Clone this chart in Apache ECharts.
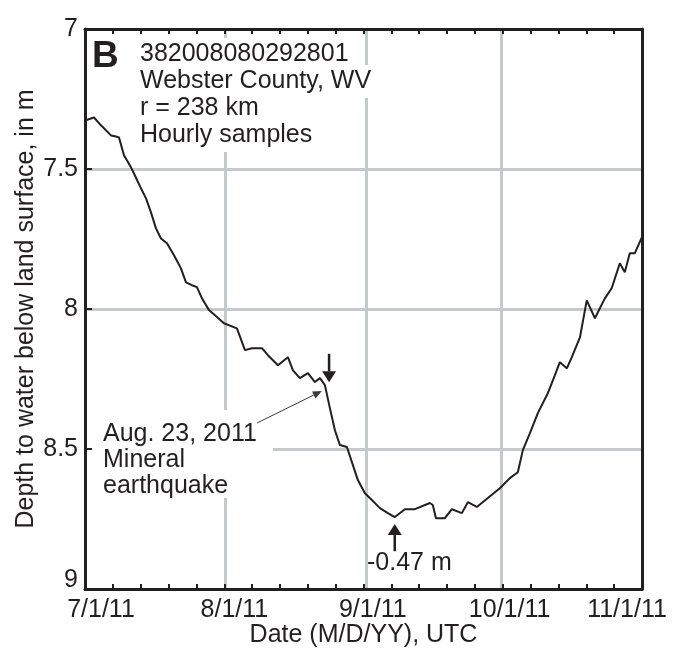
<!DOCTYPE html>
<html>
<head>
<meta charset="utf-8">
<script src="https://cdn.jsdelivr.net/npm/echarts@6/dist/echarts.min.js"></script>
<style>
  html, body { margin: 0; padding: 0; background: #ffffff; }
  #chart { width: 681px; height: 649px; }
</style>
</head>
<body>
<div id="chart"></div>
<script>
// Well 382008080292801, Webster County, WV — hourly depth to water
const START = Date.UTC(2011, 6, 1);
const DAY = 86400000;
const SPAN_DAYS = 123;

// days since 7/1/11
const recordDay = [0, 1.99, 3.53, 5.74, 6.84, 7.5, 8.61, 10.15, 10.82, 12.36, 13.47, 14.57, 15.67, 16.78,
  18.1, 19.65, 21.19, 22.3, 23.62, 24.72, 25.83, 27.37, 29.14, 30.68, 33.55, 35.32, 36.87, 39.07,
  40.4, 42.6, 44.81, 45.92, 47.46, 49.23, 50.77, 51.88, 52.98, 54.08, 55.19, 56.29, 57.84, 58.94,
  60.26, 61.81, 63.36, 65.12, 66.89, 68.43, 70.64, 72.85, 76.16, 76.8, 77.5, 79.47, 81.02, 83.22,
  84.55, 86.53, 88.96, 91.61, 93.82, 95.58, 96.69, 98.23, 100.0, 102.2, 103.75, 104.86, 106.4,
  107.5, 109.3, 110.8, 112.6, 114.8, 116.3, 118.1, 119.2, 120.3, 121.4, 122.96];

// depth to water below land surface, m
const depthM = [7.327, 7.316, 7.344, 7.38, 7.384, 7.387, 7.451, 7.494, 7.516, 7.569, 7.605, 7.655, 7.712, 7.748,
  7.765, 7.808, 7.855, 7.905, 7.915, 7.922, 7.962, 8.004, 8.029, 8.051, 8.069, 8.147, 8.14, 8.14,
  8.165, 8.201, 8.172, 8.219, 8.247, 8.229, 8.261, 8.247, 8.272, 8.354, 8.433, 8.486, 8.493, 8.547,
  8.611, 8.658, 8.682, 8.711, 8.729, 8.743, 8.715, 8.715, 8.693, 8.7, 8.747, 8.747, 8.715, 8.729,
  8.69, 8.707, 8.675, 8.64, 8.604, 8.583, 8.504, 8.444, 8.372, 8.301, 8.237, 8.19, 8.212,
  8.172, 8.101, 7.969, 8.033, 7.962, 7.926, 7.837, 7.869, 7.801, 7.801, 7.744];

const dateTickLabels = ['7/1/11', '8/1/11', '9/1/11', '10/1/11', '11/1/11'];
const depthRange = [7, 9];

// annotation anchors: [day, depth from, depth to]
const quakeArrow = [53.9, 8.16, 8.262];
const minimumArrow = [68.4, 8.865, 8.768];
// leader from the caption to the curve: [day, depth, day, depth]
const leaderLine = [38.0, 8.407, 52.3, 8.293];

const INK = '#231f20';
const GRID = '#c4caca';
const FONT = 'Liberation Sans, Arial, Helvetica, sans-serif';

const seriesData = recordDay.map((d, i) => [START + d * DAY, depthM[i]]);

const chart = echarts.init(document.getElementById('chart'), null, { renderer: 'canvas' });

const labelShift = { m6: [0, 0, 0, 32], m7: [0, 0, 0, 18], m8: [0, 0, 0, 14], m9: [0, 0, 0, 16], m10: [0, 30, 0, 0] };
const rich = {};
Object.keys(labelShift).forEach(k => {
  rich[k] = { padding: labelShift[k], fontSize: 25, fontFamily: FONT, color: INK };
});

// tick-only x axis in days (five divisions per month)
const tickX = (pos) => ({
  type: 'value',
  position: pos,
  min: 0,
  max: SPAN_DAYS,
  interval: SPAN_DAYS / 4,
  z: 4,
  axisLine: { show: true, lineStyle: { color: INK, width: 3 } },
  axisTick: { show: true, inside: true, length: 5, lineStyle: { color: INK, width: 2 } },
  minorTick: { show: true, splitNumber: 5, length: 5, lineStyle: { color: INK, width: 2 } },
  axisLabel: { show: false },
  splitLine: { show: false },
  minorSplitLine: { show: false }
});

chart.setOption({
  useUTC: true,
  animation: false,
  backgroundColor: '#ffffff',
  grid: { left: 85, top: 29, right: 39, bottom: 60, containLabel: false, outerBoundsMode: 'none' },
  xAxis: [
    {
      type: 'time',
      position: 'bottom',
      min: START,
      max: START + SPAN_DAYS * DAY,
      minInterval: 28 * DAY,
      maxInterval: 31 * DAY,
      splitNumber: 4,
      z: 0,
      name: 'Date (M/D/YY), UTC',
      nameLocation: 'middle',
      nameGap: 34,
      nameMoveOverlap: false,
      nameTextStyle: { fontSize: 25, fontFamily: FONT, color: INK },
      axisLine: { show: false },
      axisTick: { show: false },
      splitLine: { show: true, lineStyle: { color: GRID, width: 3 } },
      axisLabel: {
        show: true, margin: 9, fontSize: 25, fontFamily: FONT, color: INK,
        showMinLabel: true, showMaxLabel: true, hideOverlap: false,
        formatter: function (val) {
          const m = new Date(val).getUTCMonth();
          const idx = m - 6;
          if (idx < 0 || idx >= dateTickLabels.length) return '';
          return '{m' + m + '|' + dateTickLabels[idx] + '}';
        },
        rich: rich
      }
    },
    tickX('bottom'),
    tickX('top')
  ],
  yAxis: [
    {
      type: 'value',
      inverse: true,
      min: depthRange[0],
      max: depthRange[1],
      interval: 0.5,
      position: 'left',
      z: 0,
      name: 'Depth to water below land surface, in m',
      nameLocation: 'middle',
      nameGap: 46,
      nameMoveOverlap: false,
      nameTextStyle: { fontSize: 25, fontFamily: FONT, color: INK },
      axisLine: { show: false },
      axisTick: { show: false },
      splitLine: { show: true, lineStyle: { color: GRID, width: 3 } },
      axisLabel: {
        margin: 7, fontSize: 25, fontFamily: FONT, color: INK,
        // the bottom label sits a little above its tick, clear of the date labels
        formatter: v => (v === depthRange[1] ? '{lo|' + v + '}' : String(v)),
        rich: { lo: { padding: [0, 0, 18, 0], fontSize: 25, fontFamily: FONT, color: INK } }
      }
    },
    {
      type: 'value',
      inverse: true,
      min: depthRange[0],
      max: depthRange[1],
      interval: 0.5,
      position: 'left',
      z: 4,
      axisLine: { show: true, lineStyle: { color: INK, width: 3 } },
      axisTick: { show: true, inside: true, length: 7, lineStyle: { color: INK, width: 2 } },
      splitLine: { show: false },
      axisLabel: { show: false }
    },
    {
      type: 'value',
      inverse: true,
      min: depthRange[0],
      max: depthRange[1],
      interval: 0.5,
      position: 'right',
      z: 4,
      axisLine: { show: true, lineStyle: { color: INK, width: 3 } },
      axisTick: { show: false },
      splitLine: { show: false },
      axisLabel: { show: false }
    }
  ],
  series: [{
    type: 'line',
    xAxisIndex: 0,
    yAxisIndex: 0,
    data: seriesData,
    showSymbol: false,
    symbol: 'none',
    z: 5,
    lineStyle: { color: INK, width: 2 },
    clip: true
  }]
});

function px(day, depth) {
  return chart.convertToPixel({ xAxisIndex: 0, yAxisIndex: 0 }, [START + day * DAY, depth]);
}

function arrow(from, to, width, headLen, headHalf, color) {
  const dx = to[0] - from[0], dy = to[1] - from[1];
  const len = Math.sqrt(dx * dx + dy * dy);
  const ux = dx / len, uy = dy / len;
  const bx = to[0] - ux * headLen, by = to[1] - uy * headLen;
  return [
    { type: 'line', z: 6, shape: { x1: from[0], y1: from[1], x2: bx, y2: by },
      style: { stroke: color, lineWidth: width } },
    { type: 'polygon', z: 6,
      shape: { points: [[to[0], to[1]], [bx - uy * headHalf, by + ux * headHalf], [bx + uy * headHalf, by - ux * headHalf]] },
      style: { fill: color } }
  ];
}

const textStyle = (extra) => Object.assign({ fontSize: 25, fontFamily: FONT, fill: INK }, extra);
const boxed = (text, x, y) => ({
  type: 'text', z: 3, left: x, top: y,
  style: textStyle({ text: text, backgroundColor: '#ffffff', padding: [4, 4, 4, 3] })
});

const g = [];
g.push({ type: 'text', z: 3, left: 92, top: 38,
  style: textStyle({ text: 'B', fontSize: 37, fontWeight: 'bold' }) });
g.push(boxed('382008080292801', 137, 38));
g.push(boxed('Webster County, WV', 137, 65));
g.push(boxed('r = 238 km', 137, 92));
g.push(boxed('Hourly samples', 137, 119));

// caption for the earthquake
g.push({ type: 'rect', z: 3, shape: { x: 87, y: 410, width: 186, height: 88 }, style: { fill: '#ffffff' } });
g.push({ type: 'text', z: 4, left: 103, top: 421,
  style: textStyle({ text: 'Aug. 23, 2011\nMineral\nearthquake', align: 'center', lineHeight: 26 }) });

const qa = arrow(px(quakeArrow[0], quakeArrow[1]), px(quakeArrow[0], quakeArrow[2]), 2.5, 11, 7, INK);
const ma = arrow(px(minimumArrow[0], minimumArrow[1]), px(minimumArrow[0], minimumArrow[2]), 2.5, 11, 7, INK);
const la = arrow(px(leaderLine[0], leaderLine[1]), px(leaderLine[2], leaderLine[3]), 1, 9, 4, '#3a3a3a');
g.push(...qa, ...ma, ...la);

g.push({ type: 'text', z: 4, left: 367, top: 551, style: textStyle({ text: '-0.47 m' }) });

chart.setOption({ graphic: { elements: g } });
</script>
</body>
</html>
